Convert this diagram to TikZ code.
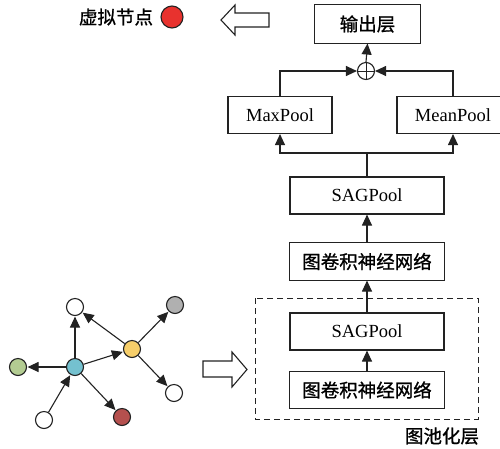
\documentclass[tikz,border=0pt]{standalone}
\usepackage{fontspec}
\setmainfont{Liberation Serif}
\newfontfamily\cjk[FakeBold=1.0]{Noto Sans CJK SC}
\usetikzlibrary{arrows.meta}
\definecolor{vred}{HTML}{E8322E}
\definecolor{nblue}{HTML}{74C1CF}
\definecolor{nyellow}{HTML}{F6CE6A}
\definecolor{ngreen}{HTML}{B3CC92}
\definecolor{ngray}{HTML}{B0B0B0}
\definecolor{nred}{HTML}{B5504E}
\definecolor{ink}{HTML}{222222}
\begin{document}
\begin{tikzpicture}[x=1pt,y=-1pt,line width=1.1pt,draw=ink,
  txt/.style={font=\fontsize{18.5}{20}\selectfont},
  cjktxt/.style={font=\fontsize{18.5}{20}\selectfont\cjk},
  box/.style={draw,rectangle,minimum width=154pt,minimum height=37pt,inner sep=0pt,txt},
  cjkbox/.style={box,draw=none,cjktxt},
  frame/.style={draw=ink,line width=1.1pt},
  flow/.style={-{Triangle[length=11pt,width=10pt]}},
  gnode/.style={draw,circle,minimum size=17pt,inner sep=0pt,fill=white},
  gedge/.style={-{Triangle[length=11pt,width=10pt]},shorten >=0.5pt},
  blockarrow/.style={draw,fill=white,line width=1.1pt}]
\useasboundingbox (0,0) rectangle (500,448);
\clip (0,0) rectangle (500,448);

% virtual node legend and pointer
\node[cjktxt] (vtext) at (116,17) {虚拟节点};
\node[draw,circle,minimum size=22pt,inner sep=0pt,fill=vred] (vcirc) at (172,17) {};
\draw[blockarrow] (269,13) -- (235,13) -- (235,5) -- (221,20) -- (235,35) -- (235,27) -- (269,27) -- cycle;

% readout stack (CJK boxes get their frames drawn separately)
\node[cjkbox,minimum width=105pt,minimum height=38pt] (out) at (367.5,24) {输出层};
\node[draw,circle,minimum size=17pt,inner sep=0pt] (plus) at (366,71) {};
\draw[line width=0.9pt] (plus.north) -- (plus.south) (plus.west) -- (plus.east);
\node[box,minimum width=104pt] (maxp) at (280,115) {MaxPool};
\node[box,minimum width=112pt] (meanp) at (453,115) {MeanPool};
\node[box] (sag1) at (367,195.5) {SAGPool};
\node[cjkbox] (gcn1) at (367,261.5) {图卷积神经网络};
\node[box] (sag2) at (367,331.5) {SAGPool};
\node[cjkbox,minimum height=36pt] (gcn2) at (367,390) {图卷积神经网络};
\draw[frame] (out.south west) rectangle (out.north east);
\draw[frame] (gcn1.south west) rectangle (gcn1.north east);
\draw[frame] (gcn2.south west) rectangle (gcn2.north east);
\coordinate (split) at (367,153);

% pooling layer frame
\draw[dashed,line width=0.9pt,dash pattern=on 6pt off 4pt] (255,298) rectangle (478,419);
\node[cjktxt] (pool) at (442,436) {图池化层};

% flow connectors
\draw[flow] (gcn2.north) -- (sag2.south);
\draw[flow] (sag2.north) -- (gcn1.south);
\draw[flow] (gcn1.north) -- (sag1.south);
\draw (sag1.north) -- (split);
\draw[flow] (split) -| (maxp.south);
\draw[flow] (split) -| (meanp.south);
\draw[flow] (maxp.north) |- (plus.west);
\draw[flow] (meanp.north) |- (plus.east);
\draw[flow] (plus.north) -- (out.south);

% input graph
\node[gnode] (top) at (75,307) {};
\node[gnode,fill=ngray] (gray) at (175,305) {};
\node[gnode,fill=nyellow] (yel) at (132,349) {};
\node[gnode,fill=ngreen] (grn) at (18,367) {};
\node[gnode,fill=nblue] (blu) at (75,367) {};
\node[gnode] (rw) at (174,393) {};
\node[gnode] (bw) at (44,420) {};
\node[gnode,fill=nred] (red) at (122,417) {};
\draw[gedge] (blu) -- (top);
\draw[gedge] (blu) -- (grn);
\draw[gedge] (blu) -- (yel);
\draw[gedge] (bw) -- (blu);
\draw[gedge] (blu) -- (red);
\draw[gedge] (yel) -- (top);
\draw[gedge] (yel) -- (gray);
\draw[gedge] (yel) -- (rw);

% graph-to-stack pointer
\draw[blockarrow] (203,361) -- (232,361) -- (232,352) -- (247,369.5) -- (232,387) -- (232,377) -- (203,377) -- cycle;
\end{tikzpicture}
\end{document}
